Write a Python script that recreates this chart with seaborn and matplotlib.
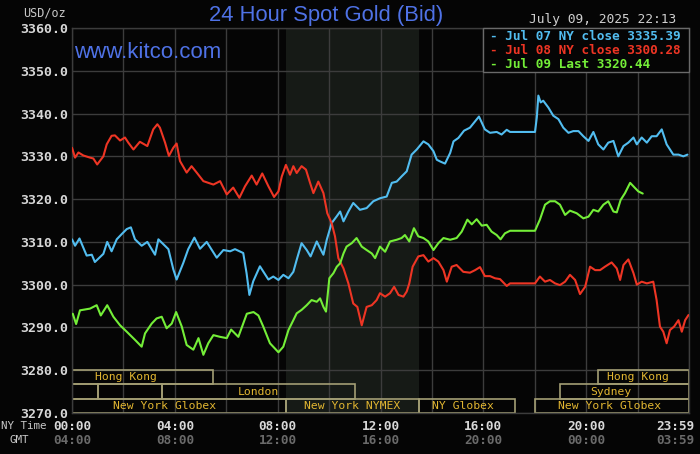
import seaborn as sns
import matplotlib.pyplot as plt
import matplotlib.transforms as mtransforms
from matplotlib.patches import Rectangle
import pandas as pd

# Jul 07 NY close (blue)
jul07_hours = [0.00, 0.12, 0.29, 0.57, 0.77, 0.89, 1.22, 1.37, 1.54, 1.74, 1.93, 2.13, 2.29, 2.45,
               2.71, 2.93, 3.23, 3.36, 3.75, 3.94, 4.07, 4.33, 4.52, 4.76, 4.98, 5.24, 5.63, 5.89,
               6.15, 6.34, 6.66, 6.79, 6.90, 7.05, 7.31, 7.64, 7.83, 8.03, 8.22, 8.42, 8.61, 8.74,
               8.93, 9.13, 9.28, 9.52, 9.65, 9.78, 9.91, 10.10, 10.30, 10.43, 10.56, 10.75, 10.94,
               11.20, 11.46, 11.72, 11.98, 12.24, 12.44, 12.63, 12.82, 13.02, 13.21, 13.41, 13.67,
               13.86, 14.06, 14.19, 14.32, 14.51, 14.71, 14.84, 15.03, 15.25, 15.48, 15.83, 16.06,
               16.26, 16.52, 16.71, 16.91, 17.04, 18.01, 18.08, 18.14, 18.23, 18.33, 18.53, 18.72,
               18.92, 19.11, 19.31, 19.50, 19.70, 19.89, 20.09, 20.28, 20.47, 20.67, 20.86, 21.06,
               21.25, 21.45, 21.64, 21.84, 21.97, 22.16, 22.36, 22.55, 22.74, 22.94, 23.13, 23.39,
               23.59, 23.78, 23.94]
jul07_price = [3310.6, 3309.1, 3310.8, 3306.8, 3307.0, 3305.3, 3307.2, 3310.0, 3307.8, 3310.6,
               3311.8, 3313.0, 3313.4, 3310.6, 3309.1, 3310.0, 3307.0, 3310.6, 3308.3, 3303.6,
               3301.2, 3305.1, 3308.3, 3311.0, 3308.4, 3310.0, 3306.3, 3308.1, 3307.8, 3308.3,
               3307.4, 3302.7, 3297.6, 3300.8, 3304.3, 3301.2, 3301.9, 3301.1, 3302.3, 3301.5,
               3303.0, 3305.8, 3309.7, 3308.1, 3306.6, 3310.1, 3308.5, 3307.0, 3310.5, 3314.4,
               3316.0, 3317.1, 3314.8, 3317.1, 3319.1, 3317.5, 3317.9, 3319.5, 3320.2, 3320.6,
               3323.8, 3324.1, 3325.3, 3326.5, 3330.4, 3331.6, 3333.5, 3332.8, 3331.2, 3329.2,
               3328.8, 3328.3, 3330.8, 3333.5, 3334.3, 3336.0, 3336.7, 3339.3, 3336.3, 3335.5,
               3335.7, 3335.1, 3336.2, 3335.7, 3335.7, 3339.1, 3344.2, 3342.6, 3343.0, 3341.4,
               3339.5, 3338.7, 3336.7, 3335.5, 3335.9, 3335.9, 3334.7, 3333.6, 3335.7, 3332.8,
               3331.6, 3333.2, 3333.6, 3330.0, 3332.4, 3333.2, 3334.4, 3332.8, 3334.4, 3333.2,
               3334.7, 3334.7, 3336.3, 3332.8, 3330.4, 3330.4, 3330.0, 3330.4]

# Jul 08 NY close (red)
jul08_hours = [0.00, 0.12, 0.25, 0.44, 0.70, 0.83, 0.98, 1.22, 1.35, 1.54, 1.67, 1.87, 2.06, 2.19,
               2.39, 2.64, 2.93, 3.16, 3.32, 3.42, 3.62, 3.77, 3.94, 4.07, 4.20, 4.46, 4.65, 4.85,
               5.11, 5.50, 5.76, 6.02, 6.27, 6.51, 6.73, 6.99, 7.18, 7.40, 7.64, 7.86, 8.03, 8.16,
               8.32, 8.48, 8.61, 8.74, 8.93, 9.10, 9.26, 9.39, 9.58, 9.78, 9.93, 10.10, 10.23,
               10.36, 10.56, 10.75, 10.94, 11.10, 11.27, 11.46, 11.66, 11.85, 11.98, 12.18, 12.37,
               12.53, 12.70, 12.89, 13.02, 13.12, 13.25, 13.47, 13.67, 13.86, 14.06, 14.25, 14.45,
               14.58, 14.77, 14.96, 15.22, 15.48, 15.68, 15.87, 16.06, 16.26, 16.45, 16.65, 16.91,
               17.04, 18.01, 18.20, 18.40, 18.59, 18.79, 18.98, 19.18, 19.37, 19.57, 19.76, 19.96,
               20.15, 20.35, 20.54, 20.73, 20.99, 21.19, 21.32, 21.45, 21.64, 21.84, 21.97, 22.16,
               22.36, 22.61, 22.74, 22.87, 23.00, 23.13, 23.26, 23.42, 23.59, 23.72, 23.85, 23.98]
jul08_price = [3332.0, 3329.7, 3330.9, 3330.2, 3329.7, 3329.5, 3328.1, 3330.0, 3332.8, 3334.8,
               3334.9, 3333.7, 3334.4, 3333.2, 3331.6, 3333.4, 3332.4, 3336.3, 3337.5, 3336.7,
               3333.2, 3330.1, 3332.0, 3333.0, 3328.9, 3326.2, 3327.7, 3326.2, 3324.2, 3323.4,
               3324.2, 3321.1, 3322.7, 3320.3, 3323.0, 3325.5, 3323.4, 3326.0, 3323.0, 3320.5,
               3321.8, 3325.3, 3328.0, 3325.7, 3327.7, 3326.1, 3327.7, 3326.9, 3323.8, 3321.4,
               3324.1, 3321.4, 3316.7, 3314.4, 3311.3, 3306.2, 3303.8, 3300.3, 3295.6, 3294.8,
               3290.5, 3294.8, 3295.2, 3296.4, 3298.0, 3297.2, 3298.0, 3299.5, 3297.6, 3297.2,
               3298.4, 3300.3, 3304.2, 3306.6, 3306.9, 3305.4, 3306.2, 3305.4, 3303.4, 3300.7,
               3304.2, 3304.6, 3303.0, 3302.8, 3303.4, 3304.1, 3302.0, 3302.0, 3301.5, 3301.3,
               3299.7, 3300.3, 3300.3, 3301.9, 3300.7, 3301.1, 3300.3, 3299.9, 3300.7, 3302.3,
               3301.1, 3297.8, 3299.5, 3304.2, 3303.4, 3303.4, 3304.2, 3305.2, 3303.8, 3301.1,
               3304.6, 3305.9, 3302.7, 3300.0, 3300.7, 3300.3, 3300.7, 3296.4, 3290.2, 3289.0,
               3286.3, 3289.4, 3290.2, 3291.7, 3289.0, 3291.7, 3292.9]

# Jul 09 last (green)
jul09_hours = [0.03, 0.16, 0.31, 0.70, 0.96, 1.12, 1.37, 1.61, 1.87, 2.13, 2.45, 2.71, 2.84, 3.10,
               3.29, 3.49, 3.68, 3.88, 4.05, 4.27, 4.46, 4.72, 4.92, 5.11, 5.30, 5.50, 5.76, 6.02,
               6.19, 6.47, 6.80, 7.06, 7.25, 7.44, 7.70, 8.03, 8.22, 8.42, 8.61, 8.74, 8.93, 9.13,
               9.32, 9.52, 9.65, 9.78, 9.88, 10.01, 10.17, 10.30, 10.43, 10.56, 10.68, 10.88,
               11.07, 11.27, 11.46, 11.66, 11.79, 11.98, 12.18, 12.37, 12.63, 12.82, 12.95, 13.12,
               13.30, 13.47, 13.67, 13.86, 14.06, 14.25, 14.45, 14.71, 14.96, 15.16, 15.38, 15.55,
               15.74, 15.94, 16.13, 16.32, 16.52, 16.67, 16.84, 17.04, 18.01, 18.20, 18.40, 18.59,
               18.79, 18.98, 19.18, 19.37, 19.63, 19.89, 20.09, 20.28, 20.47, 20.67, 20.86, 21.06,
               21.19, 21.34, 21.51, 21.71, 21.90, 22.03, 22.20]
jul09_price = [3293.2, 3290.8, 3294.0, 3294.4, 3295.2, 3292.8, 3295.2, 3292.5, 3290.5, 3289.0,
               3287.1, 3285.5, 3288.6, 3290.9, 3292.1, 3292.5, 3289.8, 3290.9, 3293.6, 3290.2,
               3285.9, 3284.8, 3287.5, 3283.6, 3286.3, 3288.2, 3287.8, 3287.5, 3289.5, 3287.8,
               3293.2, 3293.6, 3292.8, 3290.2, 3286.3, 3284.2, 3285.5, 3289.4, 3291.7, 3293.3,
               3294.1, 3295.2, 3296.4, 3296.0, 3296.8, 3294.8, 3293.7, 3301.5, 3302.7, 3304.2,
               3305.0, 3307.3, 3308.9, 3309.7, 3310.9, 3308.9, 3308.1, 3307.3, 3306.2, 3308.9,
               3307.7, 3310.1, 3310.5, 3310.9, 3311.6, 3310.1, 3313.2, 3311.3, 3310.9, 3310.1,
               3308.1, 3309.7, 3310.9, 3310.5, 3310.9, 3312.4, 3315.2, 3314.1, 3315.3, 3313.8,
               3314.0, 3312.4, 3311.6, 3310.6, 3312.0, 3312.6, 3312.6, 3315.2, 3318.7, 3319.5,
               3319.5, 3318.7, 3316.3, 3317.3, 3316.7, 3315.5, 3315.9, 3317.5, 3317.1, 3318.7,
               3319.5, 3317.1, 3316.9, 3319.8, 3321.4, 3323.8, 3322.6, 3321.8, 3321.3]

series_names = ["Jul 07 NY close", "Jul 08 NY close", "Jul 09 Last"]
series_last = ["3335.39", "3300.28", "3320.44"]
series_colors = ["#52bdf0", "#ee3524", "#74ee38"]

# trading sessions: (name, row, start hour, end hour, label hour)
sessions = [
    ("Hong Kong", 0, 0.0, 5.5, 2.1),
    ("Hong Kong", 0, 20.47, 24.0, 22.0),
    ("", 1, 0.0, 1.0, None),
    ("", 1, 1.0, 3.5, None),
    ("London", 1, 3.5, 11.0, 7.25),
    ("Sydney", 1, 19.0, 24.0, 20.95),
    ("New York Globex", 2, 0.0, 8.33, 3.6),
    ("New York NYMEX", 2, 8.33, 13.5, 10.9),
    ("NY Globex", 2, 13.5, 17.25, 15.2),
    ("New York Globex", 2, 18.0, 24.0, 20.9),
]
pit_start, pit_end = 8.33, 13.5

ny_ticks = [0, 4, 8, 12, 16, 20, 23.46]
ny_labels = ["00:00", "04:00", "08:00", "12:00", "16:00", "20:00", "23:59"]
gmt_labels = ["04:00", "08:00", "12:00", "16:00", "20:00", "00:00", "03:59"]

frames = []
for name, h, p in zip(series_names, [jul07_hours, jul08_hours, jul09_hours],
                      [jul07_price, jul08_price, jul09_price]):
    frames.append(pd.DataFrame({"hour": h, "price": p, "series": name}))
df = pd.concat(frames, ignore_index=True)

sns.set_style("dark")
BG = "#050505"
GRID = "#3c3c3c"
MONO = ["DejaVu Sans Mono"]

fig = plt.figure(figsize=(7, 4.54), dpi=100, facecolor=BG)
ax = fig.add_axes([72 / 700, 1 - 413 / 454, 617 / 700, 385 / 454])
ax.set_facecolor(BG)

# NYMEX pit hours shading
ax.axvspan(pit_start, pit_end, color="#161a16", zorder=0.2, lw=0)

sns.lineplot(data=df, x="hour", y="price", hue="series", palette=series_colors,
             hue_order=series_names, estimator=None, sort=False, linewidth=1.5,
             legend=False, ax=ax, zorder=3)

ax.set_xlim(0, 24)
ax.set_ylim(3270, 3360)
ax.set_xticks(range(0, 25, 2))
ax.set_xticklabels([])
ax.set_yticks(range(3270, 3361, 10))
ax.set_yticklabels([f"{v:.1f}" for v in range(3270, 3361, 10)],
                   family=MONO, fontsize=9.5, fontweight="bold", color="#d8d8d8")
ax.tick_params(length=0, pad=3)
ax.grid(True, color=GRID, lw=1.0, zorder=0.5)
ax.set_axisbelow(True)
ax.set_xlabel("")
ax.set_ylabel("")
for s in ax.spines.values():
    s.set_color(GRID)
    s.set_linewidth(1.0)

# session boxes along the bottom
row_h = 10 / 3
for name, row, start, end, lab in sessions:
    y0 = 3280 - (row + 1) * row_h
    ax.add_patch(Rectangle((start, y0), end - start, row_h, facecolor="none",
                           edgecolor="#a39e74", lw=1.2, zorder=2))
    if name:
        ax.text(lab, y0 + row_h / 2, name, ha="center", va="center", color="#e2b631",
                family=MONO, fontsize=8.2, zorder=2.5)

# time labels
trans = mtransforms.blended_transform_factory(ax.transData, fig.transFigure)
for t, a, b in zip(ny_ticks, ny_labels, gmt_labels):
    ax.text(t, 1 - 426 / 454, a, transform=trans, ha="center", va="center",
            family=MONO, fontsize=9.2, fontweight="bold", color="#d8d8d8")
    ax.text(t, 1 - 441 / 454, b, transform=trans, ha="center", va="center",
            family=MONO, fontsize=9.2, fontweight="bold", color="#6a6a6a")
fig.text(1 / 700, 1 - 426 / 454, "NY Time", ha="left", va="center",
         family=MONO, fontsize=7.8, color="#c8c8c8")
fig.text(29 / 700, 1 - 440 / 454, "GMT", ha="right", va="center",
         family=MONO, fontsize=7.8, color="#c8c8c8")
fig.text(66 / 700, 1 - 13 / 454, "USD/oz", ha="right", va="center",
         family=MONO, fontsize=8.5, color="#c8c8c8")

# titles
fig.text(326 / 700, 1 - 15 / 454, "24 Hour Spot Gold (Bid)", ha="center", va="center",
         family=["Liberation Sans"], fontsize=15.8, color="#4f72e6")
fig.text(74 / 700, 1 - 52 / 454, "www.kitco.com", ha="left", va="center",
         family=["Liberation Sans"], fontsize=16, color="#4f72e6")
fig.text(676 / 700, 1 - 20 / 454, "July 09, 2025 22:13", ha="right", va="center",
         family=MONO, fontsize=9.3, color="#d0d0d0")

# legend box
ax.add_patch(Rectangle(((483 - 72) / 617, (413 - 72) / 385), (689 - 483) / 617, 44 / 385,
                       transform=ax.transAxes, facecolor=BG, edgecolor="#6a6a6a",
                       lw=1.0, zorder=4, clip_on=False))
for i, (name, last, c) in enumerate(zip(series_names, series_last, series_colors)):
    fig.text(490 / 700, 1 - (36 + 14 * i) / 454, f"- {name} {last}", ha="left",
             va="center", family=MONO, fontsize=9.2, fontweight="bold", color=c, zorder=5)

fig.savefig("out.png", dpi=100, facecolor=BG)
